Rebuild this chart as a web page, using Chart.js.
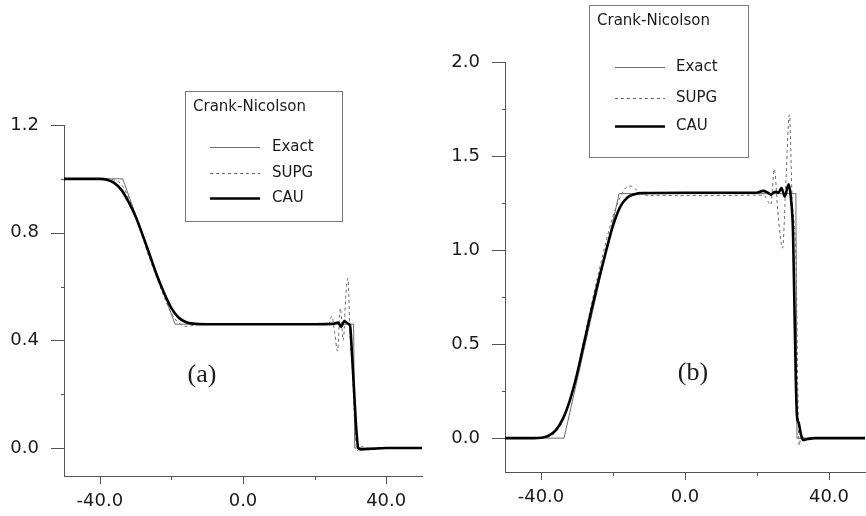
<!DOCTYPE html>
<html>
<head>
<meta charset="utf-8">
<script src="https://cdn.jsdelivr.net/npm/chart.js@4.4.0/dist/chart.umd.min.js"></script>
<style>
  html, body { margin: 0; padding: 0; background: #fff; }
  #wrap { position: relative; width: 866px; height: 516px; overflow: hidden; }
  canvas { position: absolute; top: 0; }
  #ca { left: 0; }
  #cb { left: 433px; }
</style>
</head>
<body>
<div id="wrap">
  <canvas id="ca" width="433" height="516"></canvas>
  <canvas id="cb" width="433" height="516"></canvas>
</div>
<script>
// ---------- data: panel (a) ----------
const xExactA = [-50, -33.6, -19, 30.9, 31.2, 50];
const yExactA = [1, 1, 0.46, 0.46, 0, 0];
const xSupgA = [-50, -38, -36, -34, -32, -30, -28, -26, -24, -22, -20, -18, -16, -14, -12, 0, 20, 24, 24.8, 25.6, 26.4, 27.2, 28, 28.7, 29.3, 29.9, 30.5, 31, 31.5, 32, 33, 35, 50];
const ySupgA = [1, 1, 0.995, 0.98, 0.93, 0.86, 0.78, 0.7, 0.63, 0.56, 0.5, 0.465, 0.452, 0.455, 0.46, 0.46, 0.46, 0.462, 0.49, 0.43, 0.36, 0.52, 0.40, 0.56, 0.63, 0.42, 0.30, 0.15, 0.03, -0.01, 0.005, 0, 0];
const xCauA = [-50, -40, -38, -36, -34, -32, -30, -28, -26, -24, -22, -20, -18, -16, -14, -10, 0, 10, 20, 25, 26.6, 27.4, 28.3, 29.2, 29.9, 30.4, 31, 31.6, 32.2, 33, 36, 40, 50];
const yCauA = [1, 1, 0.997, 0.985, 0.96, 0.915, 0.86, 0.79, 0.715, 0.64, 0.575, 0.52, 0.485, 0.468, 0.462, 0.46, 0.46, 0.46, 0.46, 0.461, 0.466, 0.45, 0.472, 0.463, 0.455, 0.36, 0.22, 0.08, 0.0, -0.005, -0.003, 0, 0];

// ---------- data: panel (b) ----------
const xExactB = [-50, -33.6, -18.3, 30.8, 31.1, 50];
const yExactB = [0, 0, 1.3, 1.3, 0, 0];
const xSupgB = [-50, -40, -38, -36, -34, -32, -30, -28, -26, -24, -22, -20, -18, -16.5, -15, -13.5, -12, -10, 0, 10, 20, 22, 23.8, 24.8, 25.9, 27.1, 28, 29, 29.8, 30.4, 30.9, 31.3, 31.7, 32.3, 33, 50];
const ySupgB = [0, 0, 0.005, 0.03, 0.09, 0.2, 0.35, 0.53, 0.71, 0.88, 1.04, 1.18, 1.28, 1.33, 1.34, 1.32, 1.3, 1.29, 1.29, 1.29, 1.292, 1.29, 1.24, 1.43, 1.18, 1.01, 1.35, 1.72, 1.25, 1.12, 0.9, 0.3, -0.04, 0.02, 0, 0];
const xCauB = [-50, -42, -40, -38, -36, -34, -32, -30, -28, -26, -24, -22, -20, -18, -16, -14, -12, 0, 10, 20, 21.7, 23, 23.9, 25, 26, 26.8, 27.7, 28.8, 29.5, 30, 30.4, 30.8, 31.1, 31.6, 32.2, 32.8, 34, 36, 50];
const yCauB = [0, 0, 0.002, 0.012, 0.04, 0.1, 0.2, 0.34, 0.51, 0.68, 0.84, 0.99, 1.13, 1.23, 1.28, 1.297, 1.303, 1.305, 1.305, 1.305, 1.315, 1.305, 1.295, 1.31, 1.305, 1.33, 1.285, 1.35, 1.26, 1.1, 0.7, 0.3, 0.12, 0.08, 0.02, -0.01, -0.005, 0, 0];

// ---------- ticks ----------
const xTicks = [-40, -20, 0, 20, 40];
const xTickLabels = ['-40.0', '', '0.0', '', '40.0'];
const yTicksA = [0, 0.2, 0.4, 0.6, 0.8, 1.0, 1.2];
const yTickLabelsA = ['0.0', '', '0.4', '', '0.8', '', '1.2'];
const yTicksB = [0, 0.25, 0.5, 0.75, 1.0, 1.25, 1.5, 1.75, 2.0];
const yTickLabelsB = ['0.0', '', '0.5', '', '1.0', '', '1.5', '', '2.0'];

const seriesNames = ['Exact', 'SUPG', 'CAU'];
const legendTitle = 'Crank-Nicolson';

const pts = (xs, ys) => xs.map((x, i) => ({ x: x, y: ys[i] }));

const AXIS_COLOR = '#555';
const TEXT_COLOR = '#1a1a1a';
const TICK_FONT = { family: 'DejaVu Sans', size: 18 };

const styles = [
  { borderColor: '#6a6a6a', borderWidth: 1, borderDash: [] },
  { borderColor: '#6a6a6a', borderWidth: 1, borderDash: [3, 3] },
  { borderColor: '#000000', borderWidth: 2.6, borderDash: [] }
];

// tick marks plugin (uses scale pixel mapping)
const tickMarks = {
  id: 'tickMarks',
  afterDraw(chart) {
    const ctx = chart.ctx;
    ctx.save();
    ctx.strokeStyle = AXIS_COLOR;
    ctx.lineWidth = 1;
    const xs = chart.scales.x, ys = chart.scales.y;
    xs.ticks.forEach(t => {
      const px = Math.round(xs.getPixelForValue(t.value)) + 0.5;
      const len = t.label ? 8 : 4;
      ctx.beginPath();
      ctx.moveTo(px, xs.top);
      ctx.lineTo(px, xs.top + len);
      ctx.stroke();
    });
    ys.ticks.forEach(t => {
      const py = Math.round(ys.getPixelForValue(t.value)) + 0.5;
      const len = t.label ? 13 : 3;
      ctx.beginPath();
      ctx.moveTo(ys.right - len, py);
      ctx.lineTo(ys.right, py);
      ctx.stroke();
    });
    ctx.restore();
  }
};

// legend + panel tag plugin
const annot = {
  id: 'annot',
  afterDraw(chart, args, o) {
    const ctx = chart.ctx;
    ctx.save();
    ctx.strokeStyle = '#777';
    ctx.lineWidth = 1;
    ctx.strokeRect(o.box[0] + 0.5, o.box[1] + 0.5, o.box[2] - o.box[0], o.box[3] - o.box[1]);
    ctx.fillStyle = TEXT_COLOR;
    ctx.textBaseline = 'middle';
    ctx.textAlign = 'left';
    ctx.font = '15px "DejaVu Sans"';
    ctx.fillText(legendTitle, o.titleX, o.titleY);
    seriesNames.forEach((name, i) => {
      const st = styles[i];
      const y = Math.round(o.rowsY[i]) + 0.5;
      ctx.strokeStyle = st.borderColor;
      ctx.lineWidth = st.borderWidth;
      ctx.setLineDash(st.borderDash);
      ctx.beginPath();
      ctx.moveTo(o.lineX0, y);
      ctx.lineTo(o.lineX1, y);
      ctx.stroke();
      ctx.setLineDash([]);
      ctx.fillStyle = TEXT_COLOR;
      ctx.fillText(name, o.textX, o.rowsY[i]);
    });
    ctx.font = '26px "Liberation Serif"';
    ctx.textAlign = 'center';
    ctx.fillText(o.tag, o.tagX, o.tagY);
    ctx.restore();
  }
};

function makeChart(id, data, yMin, yMax, yTicks, yLabels, geom, legendOpts) {
  const labelFor = (arr, labels, v) => {
    const i = arr.findIndex(a => Math.abs(a - v) < 1e-9);
    return i >= 0 ? labels[i] : '';
  };
  return new Chart(document.getElementById(id), {
    type: 'line',
    data: {
      datasets: data.map((d, i) => ({
        label: seriesNames[i],
        data: d,
        borderColor: styles[i].borderColor,
        borderWidth: styles[i].borderWidth,
        borderDash: styles[i].borderDash,
        pointRadius: 0,
        fill: false,
        cubicInterpolationMode: i === 0 ? 'default' : 'monotone',
        tension: 0,
        order: 2 - i
      }))
    },
    options: {
      responsive: false,
      animation: false,
      devicePixelRatio: 1,
      layout: { padding: { top: geom.top, right: geom.right, left: 0, bottom: 0 } },
      plugins: { legend: { display: false }, tooltip: { enabled: false }, annot: legendOpts },
      scales: {
        x: {
          type: 'linear', min: -50, max: 50,
          afterFit: s => { s.height = geom.xh; },
          afterBuildTicks: s => { s.ticks = xTicks.map(v => ({ value: v })); },
          grid: { display: true, drawOnChartArea: false, drawTicks: false },
          border: { display: true, color: AXIS_COLOR, width: 1 },
          ticks: {
            autoSkip: false, maxRotation: 0, padding: 15, color: TEXT_COLOR, font: TICK_FONT,
            callback: v => labelFor(xTicks, xTickLabels, v)
          }
        },
        y: {
          type: 'linear', min: yMin, max: yMax,
          afterFit: s => { s.width = geom.yw; },
          afterBuildTicks: s => { s.ticks = yTicks.map(v => ({ value: v })); },
          grid: { display: true, drawOnChartArea: false, drawTicks: false },
          border: { display: true, color: AXIS_COLOR, width: 1 },
          ticks: {
            autoSkip: false, padding: 25, color: TEXT_COLOR, font: TICK_FONT,
            callback: v => labelFor(yTicks, yLabels, v)
          }
        }
      }
    },
    plugins: [tickMarks, annot]
  });
}

makeChart('ca',
  [pts(xExactA, yExactA), pts(xSupgA, ySupgA), pts(xCauA, yCauA)],
  -0.104, 1.2, yTicksA, yTickLabelsA,
  { top: 125, right: 11, xh: 40, yw: 64 },
  { box: [185, 91, 342, 221], titleX: 193, titleY: 107, rowsY: [147, 173, 198],
    lineX0: 210, lineX1: 260, textX: 272, tag: '(a)', tagX: 202, tagY: 375 });

makeChart('cb',
  [pts(xExactB, yExactB), pts(xSupgB, ySupgB), pts(xCauB, yCauB)],
  -0.18, 2.0, yTicksB, yTickLabelsB,
  { top: 62, right: 1, xh: 44, yw: 72 },
  { box: [156, 5, 315, 157], titleX: 164, titleY: 21, rowsY: [67, 98, 126],
    lineX0: 182, lineX1: 232, textX: 243, tag: '(b)', tagX: 260, tagY: 373 });
</script>
</body>
</html>
